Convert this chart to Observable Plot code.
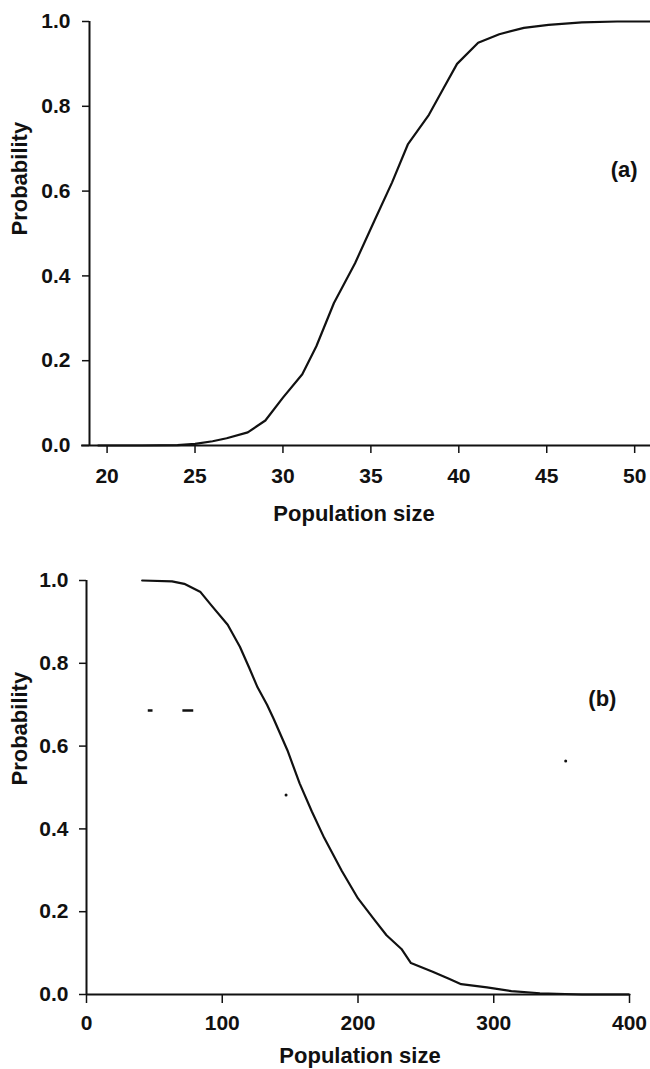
<!DOCTYPE html>
<html><head><meta charset="utf-8">
<script src="https://cdn.jsdelivr.net/npm/d3@7"></script>
<script src="https://cdn.jsdelivr.net/npm/@observablehq/plot@0.6"></script>
<style>
body{margin:0;background:#fff;}
#chart svg{display:block;}
</style></head><body><div id="chart"></div>
<script>
// Panel (a)
const popA  = [19.5, 20, 22, 24, 25, 26, 26.8, 28, 29, 30, 31.1, 31.9, 32.9, 34.1, 35.2, 36.2, 37.1, 38.3, 39.1, 39.9, 41.1, 42.3, 43.7, 45.1, 47, 49, 50.9];
const probA = [0, 0, 0, 0.001, 0.004, 0.01, 0.017, 0.031, 0.059, 0.113, 0.168, 0.234, 0.336, 0.43, 0.53, 0.62, 0.71, 0.78, 0.84, 0.90, 0.95, 0.97, 0.985, 0.992, 0.998, 1.0, 1.0];
const xDomainA = [19, 50.9];
const xTicksA = [20, 25, 30, 35, 40, 45, 50];

// Panel (b)
const popB  = [41, 63, 72, 84, 92, 104, 113, 120, 126, 133, 138, 148, 157, 166, 175, 188, 200, 212, 221, 232, 239, 255, 267, 276, 295, 313, 334, 365, 400];
const probB = [1.0, 0.998, 0.992, 0.972, 0.94, 0.893, 0.84, 0.788, 0.742, 0.70, 0.665, 0.59, 0.51, 0.442, 0.379, 0.299, 0.232, 0.181, 0.143, 0.11, 0.076, 0.055, 0.038, 0.025, 0.017, 0.008, 0.003, 0, 0];
const xDomainB = [0, 400];
const xTicksB = [0, 100, 200, 300, 400];

// scan specks in panel (b)
const dashY = [0.686, 0.686];
const dashX1 = [45.5, 71];
const dashX2 = [49, 79];
const speckX = [147, 353];
const speckY = [0.482, 0.564];

const yTicks = [0, 0.2, 0.4, 0.6, 0.8, 1.0];
const yDomain = [0, 1];
const xTitle = "Population size";
const yTitle = "Probability";
const panelLabels = ["(a)", "(b)"];

const FONT = "'Liberation Sans', Arial, Helvetica, sans-serif";
const fmt = d3.format(".1f");
const style = {fontFamily: FONT, fontSize: "21px", fontWeight: "bold", color: "#111", background: "#fff", overflow: "visible"};
const TICK_FS = 21;

const dataA = popA.map((x, i) => ({x, y: probA[i]}));
const dataB = popB.map((x, i) => ({x, y: probB[i]}));

const plotA = Plot.plot({
  width: 650, height: 530,
  marginLeft: 89, marginRight: 0, marginTop: 21, marginBottom: 85,
  style,
  x: {domain: xDomainA},
  y: {domain: yDomain},
  marks: [
    Plot.ruleY([yDomain[0]], {x1: xDomainA[0] - 0.45, x2: xDomainA[1], strokeWidth: 2}),
    Plot.ruleX([xDomainA[0]], {y1: yDomain[0], y2: yDomain[1], strokeWidth: 2}),
    Plot.axisX({ticks: xTicksA, tickSize: 8, tickPadding: 15, label: null, strokeWidth: 1.5, fontSize: TICK_FS}),
    Plot.axisY({ticks: yTicks, tickFormat: fmt, tickSize: 7, tickPadding: 12, label: null, strokeWidth: 1.5, fontSize: TICK_FS}),
    Plot.line(dataA, {x: "x", y: "y", strokeWidth: 2.2, curve: "linear"}),
    Plot.text([xTitle], {frameAnchor: "bottom", lineAnchor: "top", dy: 60, dx: -16, fontSize: 22, fontWeight: "bold"}),
    Plot.text([yTitle], {frameAnchor: "left", rotate: -90, dx: -70, dy: 2, fontSize: 22, fontWeight: "bold"}),
    Plot.text([panelLabels[0]], {x: [49.4], y: [0.649], fontSize: 22, fontWeight: "bold"})
  ]
});

const plotB = Plot.plot({
  width: 650, height: 539,
  marginLeft: 86, marginRight: 21, marginTop: 50, marginBottom: 75,
  style,
  x: {domain: xDomainB},
  y: {domain: yDomain},
  marks: [
    Plot.ruleY([yDomain[0]], {x1: xDomainB[0], x2: xDomainB[1], strokeWidth: 2}),
    Plot.ruleX([xDomainB[0]], {y1: yDomain[0], y2: yDomain[1], strokeWidth: 2}),
    Plot.axisX({ticks: xTicksB, tickSize: 9, tickPadding: 12, label: null, strokeWidth: 1.5, fontSize: TICK_FS}),
    Plot.axisY({ticks: yTicks, tickFormat: fmt, tickSize: 7, tickPadding: 11, label: null, strokeWidth: 1.5, fontSize: TICK_FS}),
    Plot.line(dataB, {x: "x", y: "y", strokeWidth: 2.2, curve: "linear"}),
    Plot.ruleY(dashY, {x1: dashX1, x2: dashX2, strokeWidth: 2.5}),
    Plot.dot(speckX.map((x, i) => ({x, y: speckY[i]})), {x: "x", y: "y", r: 1.5, fill: "currentColor", stroke: null}),
    Plot.text([xTitle], {frameAnchor: "bottom", lineAnchor: "top", dy: 53, dx: 2, fontSize: 22, fontWeight: "bold"}),
    Plot.text([yTitle], {frameAnchor: "left", rotate: -90, dx: -67, dy: -2, fontSize: 22, fontWeight: "bold"}),
    Plot.text([panelLabels[1]], {x: [380], y: [0.713], fontSize: 22, fontWeight: "bold"})
  ]
});

document.getElementById("chart").append(plotA, plotB);
</script>
</body></html>
